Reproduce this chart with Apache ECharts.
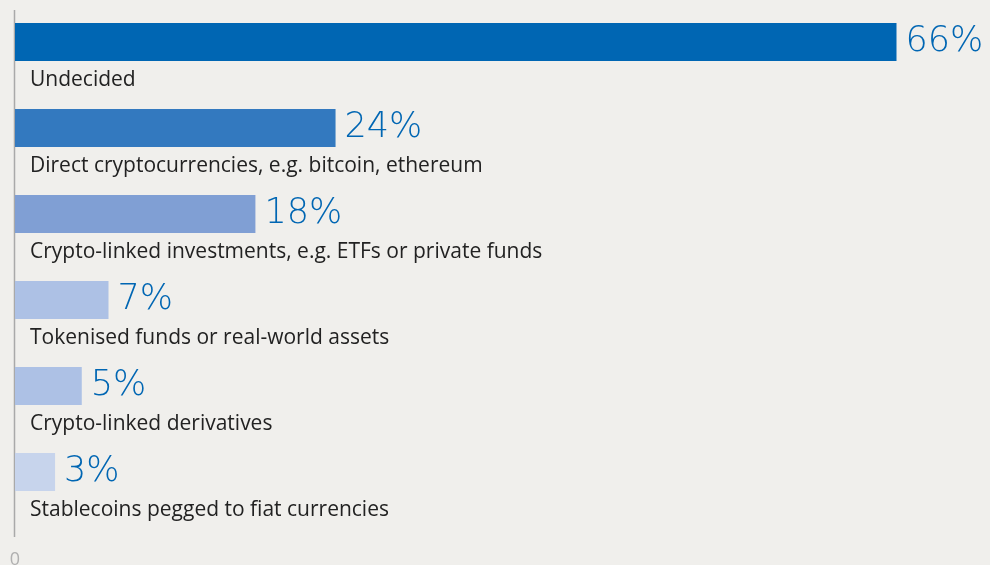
<!DOCTYPE html>
<html>
<head>
<meta charset="utf-8">
<script src="https://cdn.jsdelivr.net/npm/echarts@6/dist/echarts.min.js"></script>
<style>
  html, body { margin: 0; padding: 0; background: #F0EFEC; }
  #chart { width: 990px; height: 565px; }
</style>
</head>
<body>
<div id="chart"></div>
<script>
// Survey answers, top to bottom
const categories = [
  'Undecided',
  'Direct cryptocurrencies, e.g. bitcoin, ethereum',
  'Crypto-linked investments, e.g. ETFs or private funds',
  'Tokenised funds or real-world assets',
  'Crypto-linked derivatives',
  'Stablecoins pegged to fiat currencies'
];
const shares = [66, 24, 18, 7, 5, 3];
const barColors = ['#0066B3', '#3379BF', '#809FD4', '#ADC1E5', '#ADC1E5', '#C7D4EC'];

const chart = echarts.init(document.getElementById('chart'), null, { renderer: 'canvas' });

chart.setOption({
  backgroundColor: '#F0EFEC',
  animation: false,
  grid: {
    left: 15, top: -1, width: 975, height: 516,
    containLabel: false,
    outerBoundsMode: 'none'
  },
  xAxis: {
    type: 'value',
    min: 0,
    max: 73,
    interval: 73,
    axisLine: { show: false },
    axisTick: { show: false },
    splitLine: { show: false },
    axisLabel: {
      margin: 36,
      color: '#B0B0B0',
      fontFamily: 'Open Sans',
      fontSize: 18,
      align: 'center',
      showMinLabel: true,
      formatter: v => (v === 0 ? '0' : '')
    }
  },
  yAxis: {
    type: 'category',
    data: categories,
    inverse: true,
    axisLine: { show: false },
    axisTick: { show: false },
    axisLabel: {
      inside: true,
      interval: 0,
      showMinLabel: true,
      showMaxLabel: true,
      hideOverlap: false,
      margin: 15,
      align: 'left',
      verticalAlign: 'middle',
      formatter: v => '{t|' + v + '}',
      rich: {
        t: {
          color: '#222222',
          fontFamily: 'Open Sans',
          fontSize: 21,
          lineHeight: 24,
          padding: [77, 0, 0, 0]
        }
      }
    }
  },
  graphic: [{
    type: 'line',
    shape: { x1: 14.5, y1: 10, x2: 14.5, y2: 537 },
    style: { stroke: '#A9A9A9', lineWidth: 1.5 },
    silent: true
  }],
  series: [{
    type: 'bar',
    barWidth: 38,
    data: shares.map((v, i) => ({ value: v, itemStyle: { color: barColors[i] } })),
    label: {
      show: true,
      position: 'right',
      distance: 9,
      color: '#0066B3',
      fontFamily: 'DejaVu Sans',
      fontWeight: 300,
      fontSize: 35,
      formatter: p => p.value + '%'
    }
  }]
});
</script>
</body>
</html>
